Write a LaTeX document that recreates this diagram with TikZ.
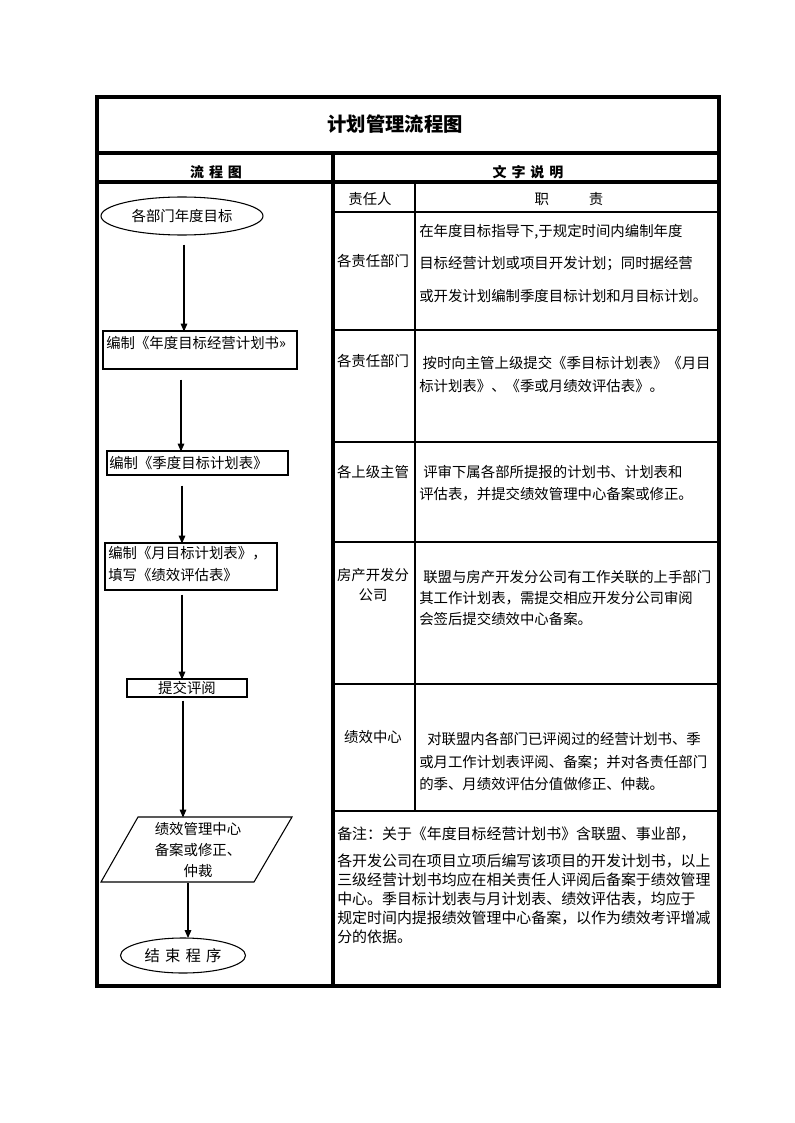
\documentclass[tikz,border=0pt]{standalone}
\usepackage{fontspec}
\setmainfont{Noto Sans CJK SC}
\usetikzlibrary{arrows.meta,shapes.geometric,calc}
\begin{document}
\begin{tikzpicture}[x=0.75pt,y=-0.75pt,
  frame/.style={line width=2.8pt},
  rule/.style={line width=2.1pt},
  box/.style={draw, line width=0.8pt, rectangle, inner sep=0pt},
  oval/.style={draw, line width=0.8pt, ellipse, inner sep=0pt},
  para/.style={draw, line width=0.8pt},
  arr/.style={line width=0.8pt, -{Triangle[length=6pt,width=5pt]}},
  txt/.style={inner sep=0pt, font=\fontsize{10.8}{14}\selectfont},
  lt/.style={txt, anchor=west, align=left},
  ttl/.style={inner sep=0pt, font=\fontsize{14.5}{16}\selectfont\bfseries},
  hdr/.style={inner sep=0pt, font=\fontsize{10.5}{12}\selectfont\bfseries}]
\fill[white] (0,0) rectangle (794,1123);
\useasboundingbox (0,0) rectangle (794,1123);

% table frame
\draw[frame] (97,97) rectangle (719,986);
\draw[frame] (97,153) -- (719,153);
\draw[frame] (97,182) -- (719,182);
\draw[frame] (333,153) -- (333,986);
\draw[rule] (415,182) -- (415,811);
\foreach \yy in {212,330,442,542,684,811} \draw[rule] (333,\yy) -- (719,\yy);

% headers
\node[ttl] (title) at (395,124) {计划管理流程图};
\node[hdr] (h1) at (216,172) {流\hspace{0.35em}程\hspace{0.35em}图};
\node[hdr] (h2) at (528,172) {文\hspace{0.35em}字\hspace{0.35em}说\hspace{0.35em}明};
\node[txt] (h3) at (370,199) {责任人};
\node[txt] (h4) at (569,199) {职\hspace{30pt}责};

% flowchart
\node[oval, minimum width=121.5pt, minimum height=28.5pt, txt] (e1) at (182,216) {各部门年度目标};
\node[box, minimum width=145.5pt, minimum height=28.5pt] (b1) at (200,350) {};
\node[lt] (b1t) at (106,343) {编制《年度目标经营计划书»};
\node[box, minimum width=135.75pt, minimum height=18pt] (b2) at (197.5,463) {};
\node[lt] (b2t) at (109,463) {编制《季度目标计划表》};
\node[box, minimum width=129pt, minimum height=35.25pt] (b3) at (191,566.5) {};
\node[lt, font=\fontsize{10.8}{16.5}\selectfont] (b3t) at (108,564) {编制《月目标计划表》，\\填写《绩效评估表》};
\node[box, minimum width=90pt, minimum height=13.5pt, txt] (b4) at (187,688) {提交评阅};
\draw[para] (138,817) -- (292,817) -- (254,882) -- (101,882) -- cycle;
\node[txt, align=center, font=\fontsize{10.8}{15.75}\selectfont] (p) at (198,850) {绩效管理中心\\备案或修正、\\仲裁};
\node[oval, minimum width=93.75pt, minimum height=26.25pt, inner sep=0pt, font=\fontsize{11.5}{13}\selectfont] (e2) at (183,955.5) {结\hspace{3.9pt}束\hspace{3.9pt}程\hspace{3.9pt}序};

\draw[arr] (e1.south) ++(2,9) -- ++(0,87);
\draw[arr] (b1.south) ++(-19,10) -- ++(0,72);
\draw[arr] (b2.south) ++(-15.5,10) -- ++(0,58);
\draw[arr] (b3.south) ++(-9,4) -- ++(0,85);
\draw[arr] (b4.south) ++(-4,3) -- ++(0,117);
\draw[arr] (p.center) ++(-10,33) -- ++(0,55);

% right column labels
\node[txt] (r1l) at (373,261) {各责任部门};
\node[txt] (r2l) at (373,361) {各责任部门};
\node[txt] (r3l) at (373,472) {各上级主管};
\node[txt, align=center, font=\fontsize{10.8}{15}\selectfont] (r4l) at (373,585) {房产开发分\\公司};
\node[txt] (r5l) at (373,737) {绩效中心};

% right column texts
\node[lt, font=\fontsize{10.8}{24.4}\selectfont] (r1t) at (419,263.5) {在年度目标指导下,于规定时间内编制年度\\目标经营计划或项目开发计划；同时据经营\\或开发计划编制季度目标计划和月目标计划。};
\node[lt, font=\fontsize{10.8}{17.25}\selectfont] (r2t) at (419,374.5) {\hspace{2.5pt}按时向主管上级提交《季目标计划表》《月目\\标计划表》、《季或月绩效评估表》。};
\node[lt, font=\fontsize{10.8}{16.5}\selectfont] (r3t) at (419,483) {\hspace{3pt}评审下属各部所提报的计划书、计划表和\\评估表，并提交绩效管理中心备案或修正。};
\node[lt, font=\fontsize{10.8}{15.75}\selectfont] (r4t) at (419,598) {\hspace{3pt}联盟与房产开发分公司有工作关联的上手部门\\其工作计划表，需提交相应开发分公司审阅\\会签后提交绩效中心备案。};
\node[lt, font=\fontsize{10.8}{16.9}\selectfont] (r5t) at (419,761.5) {\hspace{6pt}对联盟内各部门已评阅过的经营计划书、季\\或月工作计划表评阅、备案；并对各责任部门\\的季、月绩效评估分值做修正、仲裁。};

% note
\node[lt, font=\fontsize{11.2}{14}\selectfont] (n1) at (337,834) {备注：关于《年度目标经营计划书》含联盟、事业部，};
\node[lt, font=\fontsize{11.2}{14.25}\selectfont] (n2) at (337,899) {各开发公司在项目立项后编写该项目的开发计划书，以上\\三级经营计划书均应在相关责任人评阅后备案于绩效管理\\中心。季目标计划表与月计划表、绩效评估表，均应于\\规定时间内提报绩效管理中心备案，以作为绩效考评增减\\分的依据。};
\end{tikzpicture}
\end{document}
